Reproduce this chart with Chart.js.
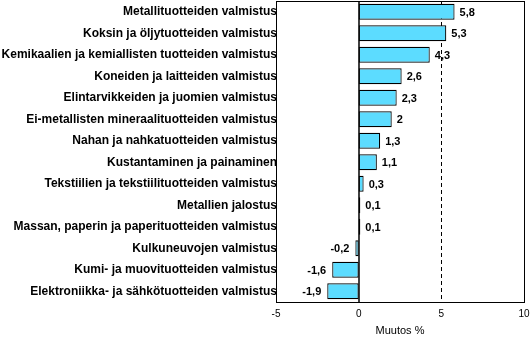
<!DOCTYPE html>
<html>
<head>
<meta charset="utf-8">
<script src="https://cdn.jsdelivr.net/npm/chart.js@4/dist/chart.umd.min.js"></script>
<style>
html,body{margin:0;padding:0;background:#fff;}
#wrap{width:530px;height:338px;position:relative;}
</style>
</head>
<body>
<div id="wrap"><canvas id="c" width="530" height="338"></canvas></div>
<script>
const categories = [
  "Metallituotteiden valmistus",
  "Koksin ja öljytuotteiden valmistus",
  "Kemikaalien ja kemiallisten tuotteiden valmistus",
  "Koneiden ja laitteiden valmistus",
  "Elintarvikkeiden ja juomien valmistus",
  "Ei-metallisten mineraalituotteiden valmistus",
  "Nahan ja nahkatuotteiden valmistus",
  "Kustantaminen ja painaminen",
  "Tekstiilien ja tekstiilituotteiden valmistus",
  "Metallien jalostus",
  "Massan, paperin ja paperituotteiden valmistus",
  "Kulkuneuvojen valmistus",
  "Kumi- ja muovituotteiden valmistus",
  "Elektroniikka- ja sähkötuotteiden valmistus"
];
const values = [5.8, 5.3, 4.3, 2.6, 2.3, 2, 1.3, 1.1, 0.3, 0.1, 0.1, -0.2, -1.6, -1.9];
const xTicks = [-5, 0, 5, 10];
const axisTitle = "Muutos %";
const refLine = 5;

const fmt = v => String(v).replace('.', ',');

const decor = {
  id: 'decor',
  beforeDatasetsDraw(chart) {
    const {ctx, chartArea: a, scales: {x}} = chart;
    ctx.save();
    ctx.strokeStyle = '#000';
    ctx.lineWidth = 1;
    ctx.setLineDash([4, 3]);
    const px = Math.round(x.getPixelForValue(refLine)) + 0.5;
    ctx.beginPath();
    ctx.moveTo(px, a.top);
    ctx.lineTo(px, a.bottom);
    ctx.stroke();
    ctx.restore();
  },
  afterDatasetsDraw(chart) {
    const {ctx, chartArea: a, scales: {x}} = chart;
    ctx.save();
    ctx.strokeStyle = '#000';
    ctx.lineWidth = 1.5;
    const z = Math.round(x.getPixelForValue(0));
    ctx.beginPath();
    ctx.moveTo(z, a.top);
    ctx.lineTo(z, a.bottom);
    ctx.stroke();
    ctx.lineWidth = 1;
    ctx.strokeRect(Math.round(a.left) + 0.5, Math.round(a.top) + 0.5,
      Math.round(a.right - a.left), Math.round(a.bottom - a.top));
    ctx.fillStyle = '#000';
    ctx.font = 'bold 11px "Liberation Sans", Arial, sans-serif';
    ctx.textBaseline = 'middle';
    const meta = chart.getDatasetMeta(0);
    meta.data.forEach((el, i) => {
      const v = values[i];
      if (v >= 0) {
        ctx.textAlign = 'left';
        ctx.fillText(fmt(v), el.x + 5, el.y + 1);
      } else {
        ctx.textAlign = 'right';
        ctx.fillText(fmt(v), el.x - 6, el.y + 1);
      }
    });
    ctx.restore();
  }
};

new Chart(document.getElementById('c'), {
  type: 'bar',
  data: {
    labels: categories,
    datasets: [{
      data: values,
      backgroundColor: '#5CDCFF',
      borderColor: '#000',
      borderWidth: 1.2,
      borderSkipped: false,
      barPercentage: 0.74,
      categoryPercentage: 1
    }]
  },
  options: {
    indexAxis: 'y',
    responsive: false,
    animation: false,
    devicePixelRatio: 1,
    layout: {padding: {top: 1, right: 6, left: 0, bottom: 0}},
    plugins: {legend: {display: false}, tooltip: {enabled: false}},
    scales: {
      x: {
        min: -5, max: 10,
        afterBuildTicks(s) { s.ticks = xTicks.map(v => ({value: v})); },
        grid: {display: false, drawTicks: false},
        border: {display: false},
        ticks: {
          color: '#000',
          font: {family: '"Liberation Sans", Arial, sans-serif', size: 10},
          padding: 6,
          maxRotation: 0,
          callback: v => fmt(v)
        },
        title: {
          display: true, text: axisTitle, color: '#000',
          font: {family: '"Liberation Sans", Arial, sans-serif', size: 11},
          padding: {top: 4, bottom: 0}
        },
        afterFit(s) { s.height = 36; s.paddingLeft = 0; s.paddingRight = 0; }
      },
      y: {
        grid: {display: false, drawTicks: false},
        border: {display: false},
        ticks: {
          color: '#000',
          font: {family: '"Liberation Sans", Arial, sans-serif', size: 12, weight: 'bold'},
          padding: -1,
          autoSkip: false
        },
        afterFit(s) { s.width = 276; s.paddingTop = 0; s.paddingBottom = 0; }
      }
    }
  },
  plugins: [decor]
});
</script>
</body>
</html>
